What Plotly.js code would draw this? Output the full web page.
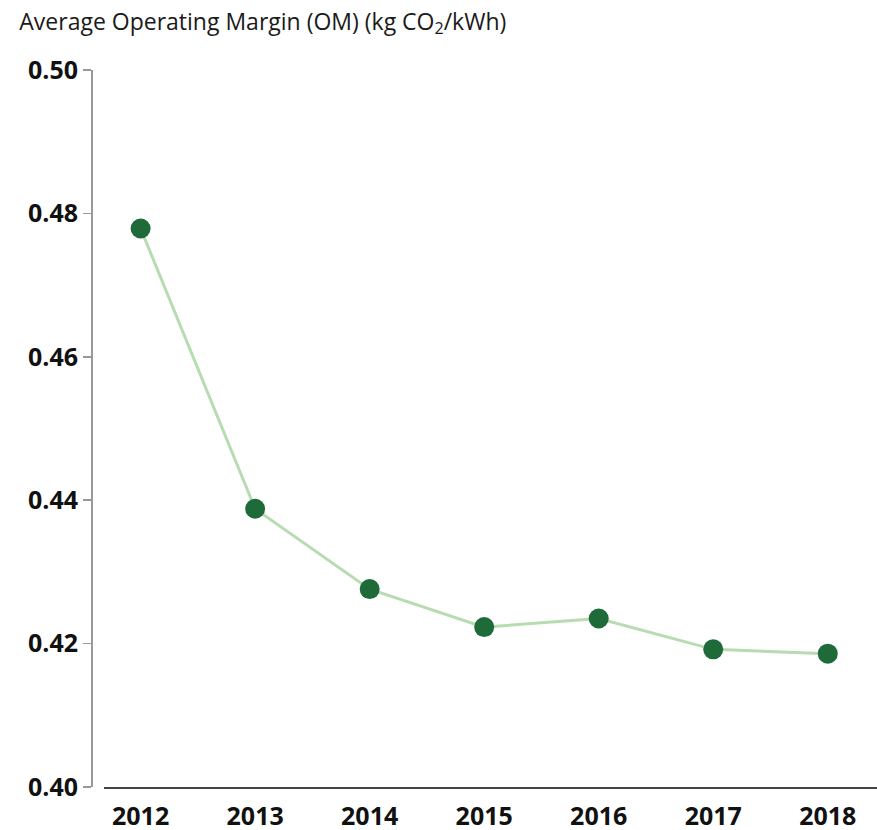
<!DOCTYPE html>
<html>
<head>
<meta charset="utf-8">
<script src="https://cdn.plot.ly/plotly-3.0.1.min.js"></script>
<style>html,body{margin:0;padding:0;background:#fff;}#chart{width:877px;height:830px;}</style>
</head>
<body>
<div id="chart"></div>
<script>
const years = [2012, 2013, 2014, 2015, 2016, 2017, 2018];
const omValues = [0.4779, 0.4388, 0.4276, 0.4223, 0.4235, 0.4192, 0.4186];
const yTickVals = [0.40, 0.42, 0.44, 0.46, 0.48, 0.50];
const yTickText = ["0.40", "0.42", "0.44", "0.46", "0.48", "0.50"];
const titleText = "Average Operating Margin (OM) (kg CO<sub>2</sub>/kWh)";

const trace = {
  x: years,
  y: omValues,
  type: "scatter",
  mode: "lines+markers",
  line: {color: "#b7dcb1", width: 3},
  marker: {color: "#1e6b39", size: 20},
  hoverinfo: "x+y"
};

const layout = {
  width: 877,
  height: 830,
  margin: {l: 91, r: 0, t: 70, b: 43},
  paper_bgcolor: "#ffffff",
  plot_bgcolor: "#ffffff",
  showlegend: false,
  font: {family: "Open Sans, Noto Sans, sans-serif", color: "#111"},
  title: {
    text: titleText,
    x: 0.022, xanchor: "left", xref: "container",
    y: 0.974, yanchor: "middle", yref: "container",
    font: {size: 23, color: "#1a1a1a", family: "Open Sans, sans-serif"}
  },
  xaxis: {
    domain: [0.0165, 1],
    range: [2011.68, 2018.43],
    tickvals: years,
    ticktext: years.map(String),
    showgrid: false,
    zeroline: false,
    showline: true,
    linecolor: "#444",
    linewidth: 1.5,
    ticks: "",
    ticklabelstandoff: 6,
    tickfont: {size: 25, color: "#111", family: "Open Sans, sans-serif", weight: "bold"}
  },
  yaxis: {
    anchor: "free",
    position: 0,
    range: [0.40, 0.50],
    tickvals: yTickVals,
    ticktext: yTickText,
    showgrid: false,
    zeroline: false,
    showline: true,
    linecolor: "#999",
    linewidth: 1.5,
    ticks: "outside",
    ticklen: 8,
    tickcolor: "#999",
    tickwidth: 1.5,
    tickfont: {size: 25, color: "#111", family: "Open Sans, sans-serif", weight: "bold"}
  }
};

Plotly.newPlot("chart", [trace], layout, {displayModeBar: false, staticPlot: true});
</script>
</body>
</html>
